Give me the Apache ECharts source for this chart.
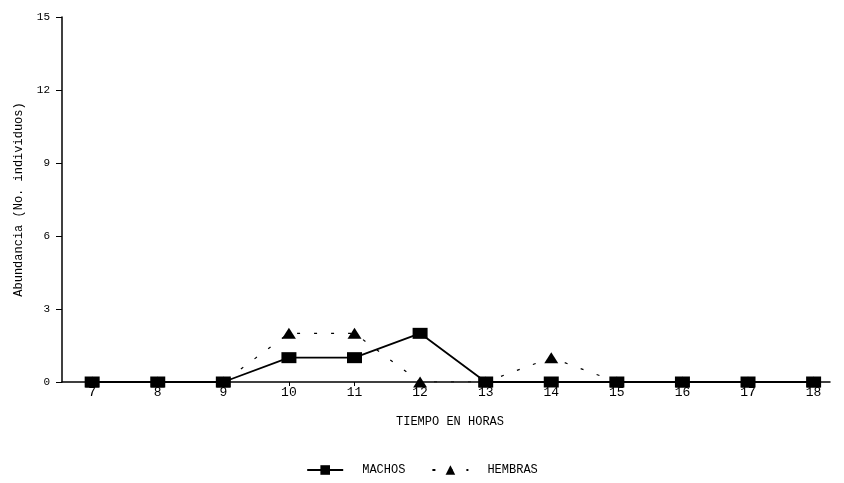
<!DOCTYPE html>
<html><head><meta charset="utf-8">
<script src="https://cdn.jsdelivr.net/npm/echarts@6/dist/echarts.min.js"></script>
<style>html,body{margin:0;padding:0;background:#fff}#c{width:844px;height:483px}</style>
</head><body><div id="c"></div>
<script>
const hours = [7, 8, 9, 10, 11, 12, 13, 14, 15, 16, 17, 18];
const machos = [0, 0, 0, 1, 1, 2, 0, 0, 0, 0, 0, 0];
const hembras = [0, 0, 0, 2, 2, 0, 0, 1, 0, 0, 0, 0];
const yTicks = [0, 3, 6, 9, 12, 15];
const font = '"Liberation Mono", "DejaVu Sans Mono", monospace';
const chart = echarts.init(document.getElementById('c'));
chart.setOption({
  animation: false,
  backgroundColor: '#fff',
  textStyle: { fontFamily: font, color: '#000' },
  grid: { left: 62, right: 14, top: 17, bottom: 101 },
  legend: {
    bottom: 2, left: 'center', itemWidth: 36, itemHeight: 12, itemGap: 26,
    textStyle: { fontFamily: font, fontSize: 12, color: '#000', padding: [0, 0, 0, 14] },
    data: ['MACHOS', 'HEMBRAS']
  },
  xAxis: {
    type: 'value', min: 6.54, max: 18.25,
    name: 'TIEMPO EN HORAS', nameLocation: 'middle', nameGap: 34,
    nameTextStyle: { fontFamily: font, fontSize: 12, color: '#000', padding: [0, 0, 0, 8] },
    axisLine: { lineStyle: { color: '#000', width: 1.5 } },
    axisTick: { show: true, customValues: hours, length: 4, inside: false, lineStyle: { color: '#000' } },
    axisLabel: { customValues: hours, fontFamily: font, fontSize: 13, color: '#000', margin: 4 },
    splitLine: { show: false }
  },
  yAxis: {
    type: 'value', min: 0, max: 15, interval: 3,
    name: 'Abundancia (No. individuos)', nameLocation: 'middle', nameGap: 37,
    nameTextStyle: { fontFamily: font, fontSize: 12, color: '#000' },
    axisLine: { show: true, lineStyle: { color: '#000', width: 1.5 } },
    axisTick: { show: true, length: 6, lineStyle: { color: '#000' } },
    axisLabel: { fontFamily: font, fontSize: 11, color: '#000', margin: 12,
      customValues: yTicks },
    splitLine: { show: false }
  },
  series: [
    {
      name: 'HEMBRAS', type: 'line', z: 2,
      data: hours.map((h, i) => [h, hembras[i]]),
      symbol: 'triangle', symbolSize: [14, 11],
      lineStyle: { color: '#000', width: 1.2, type: [3, 14] },
      itemStyle: { color: '#000' }
    },
    {
      name: 'MACHOS', type: 'line', z: 3,
      data: hours.map((h, i) => [h, machos[i]]),
      symbol: 'rect', symbolSize: [15, 11],
      lineStyle: { color: '#000', width: 1.8 },
      itemStyle: { color: '#000' }
    }
  ]
});
</script></body></html>
